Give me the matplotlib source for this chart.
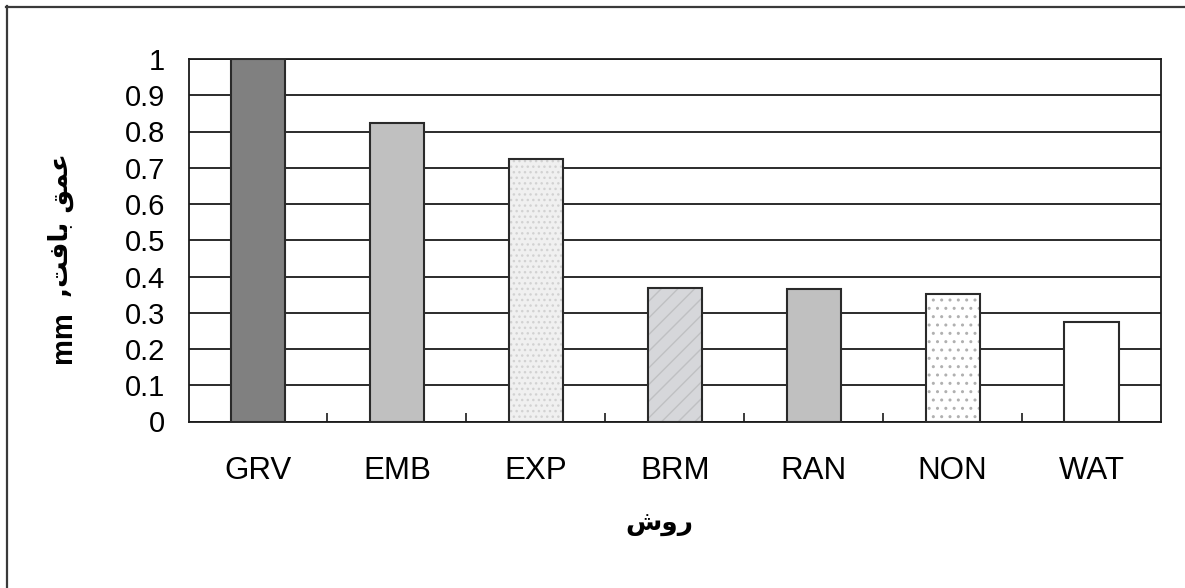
import matplotlib
matplotlib.use("Agg")
import matplotlib.pyplot as plt
from matplotlib.lines import Line2D

categories = ["GRV", "EMB", "EXP", "BRM", "RAN", "NON", "WAT"]
values = [1.0, 0.823, 0.724, 0.369, 0.366, 0.352, 0.275]
y_ticks = [0, 0.1, 0.2, 0.3, 0.4, 0.5, 0.6, 0.7, 0.8, 0.9, 1]
y_tick_labels = ["0", "0.1", "0.2", "0.3", "0.4", "0.5", "0.6", "0.7", "0.8", "0.9", "1"]

# fill styles per bar: (facecolor, hatch, hatchcolor)
styles = [
    ("#808080", None, None),
    ("#c0c0c0", None, None),
    ("#f0f0f0", "...", "#d2d2d2"),
    ("#d6d7da", "//", "#bfc0c2"),
    ("#c0c0c0", None, None),
    ("#ffffff", "..", "#b0b0b0"),
    ("#ffffff", None, None),
]

W, H = 1185, 588
DPI = 100
fig = plt.figure(figsize=(W / DPI, H / DPI), dpi=DPI)
fig.patch.set_facecolor("white")

L, R, T, B = 188.5, 1161, 59, 421.5
ax = fig.add_axes([L / W, 1 - B / H, (R - L) / W, (B - T) / H])

x = list(range(len(categories)))
plt.rcParams["hatch.linewidth"] = 1.0
for i, (v, (fc, hatch, hc)) in enumerate(zip(values, styles)):
    if hatch:
        ax.bar(i, v, width=0.39, color=fc, edgecolor=hc, linewidth=0, hatch=hatch, zorder=3)
        ax.bar(i, v, width=0.39, facecolor="none", edgecolor="#2a2a2a", linewidth=1.5, zorder=4)
    else:
        ax.bar(i, v, width=0.39, color=fc, edgecolor="#2a2a2a", linewidth=1.5, zorder=3)

ax.set_xlim(-0.5, len(categories) - 0.5)
ax.set_ylim(0, 1)
ax.set_yticks(y_ticks)
ax.set_yticklabels(y_tick_labels)
ax.yaxis.grid(True, color="#1a1a1a", linewidth=1.3, zorder=1)
ax.set_axisbelow(True)

# category boundaries as major ticks, labels at centres as minor ticks
ax.set_xticks([i + 0.5 for i in range(len(categories) - 1)])
ax.set_xticklabels([])
ax.set_xticks(x, minor=True)
ax.set_xticklabels(categories, minor=True)
ax.tick_params(axis="x", which="major", direction="in", length=6.5, width=1.2, color="#1a1a1a")
ax.tick_params(axis="x", which="minor", length=0, pad=25, labelsize=22.5)
ax.tick_params(axis="y", length=0, pad=17, labelsize=21)

for lab in ax.get_xticklabels(minor=True) + ax.get_yticklabels():
    lab.set_fontfamily("Liberation Sans")

for s in ax.spines.values():
    s.set_color("#1a1a1a")
    s.set_linewidth(1.3)

# y label: "عمق بافت, mm" (shaped, visual order, rotated)
fig.text(63 / W, 1 - 363 / H, "mm", rotation=90, ha="center", va="bottom",
         fontsize=21, fontweight="bold", family="Liberation Sans")
fig.text(61 / W, 1 - 297 / H, ",\uFE96\uFED3\uFE8E\uFE91 \uFED6\uFEE4\uFECB", rotation=90,
         ha="center", va="bottom", fontsize=19, fontweight="bold", family="DejaVu Sans")

# x label: "روش"
fig.text(659 / W, 1 - 524 / H, "\uFEB5\uFEED\uFEAD", ha="center", va="center",
         fontsize=19, fontweight="bold", family="DejaVu Sans")

# outer chart border (top and left visible)
fig.add_artist(Line2D([6.5 / W, 6.5 / W], [1 - 6 / H, 0], transform=fig.transFigure,
                      color="#3a3a3a", linewidth=1.6))
fig.add_artist(Line2D([6 / W, 1], [1 - 6.5 / H, 1 - 6.5 / H], transform=fig.transFigure,
                      color="#3a3a3a", linewidth=1.6))

fig.savefig("out.png", dpi=DPI)
